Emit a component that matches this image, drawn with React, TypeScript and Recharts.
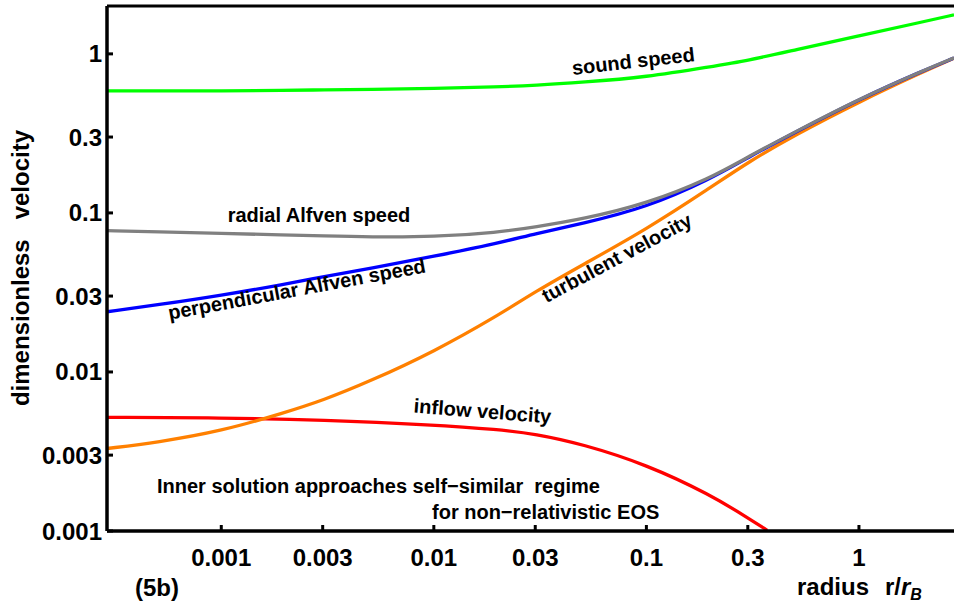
import { LineChart, Line, XAxis, YAxis, ReferenceLine } from "recharts";

const radius = [2.9e-4, 5e-4, 1e-3, 2e-3, 3e-3, 5e-3, 0.01, 0.02, 0.03, 0.05, 0.1, 0.2, 0.3, 0.5, 1, 2, 2.8];

const soundSpeed = [0.585, 0.585, 0.585, 0.589, 0.594, 0.598, 0.607, 0.62, 0.634, 0.663, 0.714, 0.831, 0.908, 1.06, 1.3, 1.59, 1.76];
const radialAlfven = [0.0774, 0.076, 0.0743, 0.0727, 0.0717, 0.0706, 0.0706, 0.0754, 0.0816, 0.0913, 0.114, 0.165, 0.225, 0.323, 0.521, 0.785, 0.944];
const perpAlfven = [0.0239, 0.0264, 0.0303, 0.0357, 0.0396, 0.0448, 0.0533, 0.0643, 0.0741, 0.0857, 0.108, 0.163, 0.223, 0.321, 0.519, 0.783, 0.942];
const turbulent = [0.0033, 0.00361, 0.00424, 0.00556, 0.00662, 0.00873, 0.0134, 0.0226, 0.032, 0.0471, 0.0788, 0.144, 0.208, 0.309, 0.499, 0.77, 0.94];

const inflowRadius = [2.9e-4, 1e-3, 3e-3, 0.01, 0.02, 0.03, 0.05, 0.1, 0.2, 0.3, 0.37];
const inflow = [0.00518, 0.00515, 0.00499, 0.00465, 0.00435, 0.00408, 0.00352, 0.00262, 0.00169, 0.00121, 0.00101];

const xTicks = [0.001, 0.003, 0.01, 0.03, 0.1, 0.3, 1];
const yTicks = [0.001, 0.003, 0.01, 0.03, 0.1, 0.3, 1];

const toPoints = (xs: number[], ys: number[]) => xs.map((r, i) => ({ r, v: ys[i] }));

const font = "'Liberation Sans', Arial, Helvetica, sans-serif";
const tickStyle = { fill: "#000", fontSize: 24, fontWeight: "bold", fontFamily: font };
const noteStyle = { fill: "#000", fontSize: 20, fontWeight: "bold", fontFamily: font };

export default function App() {
  return (
    <div style={{ position: "absolute", left: 0, top: 0, width: 954, height: 607, background: "#fff" }}>
      <LineChart width={954} height={607} margin={{ top: 6, right: 0, bottom: 0, left: 0 }}>
        <XAxis
          dataKey="r"
          type="number"
          scale="log"
          domain={[2.9e-4, 2.8]}
          allowDataOverflow
          ticks={xTicks}
          interval={0}
          height={76}
          tickSize={-6}
          tickMargin={24}
          tick={tickStyle}
          tickFormatter={(v) => String(v)}
          axisLine={{ stroke: "#000", strokeWidth: 3.5 }}
          tickLine={{ stroke: "#000", strokeWidth: 3 }}
        />
        <YAxis
          type="number"
          scale="log"
          domain={[0.001, 2]}
          allowDataOverflow
          ticks={yTicks}
          interval={0}
          width={107}
          tickSize={-6}
          tickMargin={11}
          tick={tickStyle}
          tickFormatter={(v) => String(v)}
          axisLine={{ stroke: "#000", strokeWidth: 3.5 }}
          tickLine={{ stroke: "#000", strokeWidth: 3 }}
        />
        <ReferenceLine y={2} stroke="#000" strokeWidth={3} />
        <Line data={toPoints(inflowRadius, inflow)} dataKey="v" type="basis" stroke="#ff0000" strokeWidth={3.3} dot={false} isAnimationActive={false} />
        <Line data={toPoints(radius, turbulent)} dataKey="v" type="basis" stroke="#ff8000" strokeWidth={3.3} dot={false} isAnimationActive={false} />
        <Line data={toPoints(radius, perpAlfven)} dataKey="v" type="basis" stroke="#0000ff" strokeWidth={3.3} dot={false} isAnimationActive={false} />
        <Line data={toPoints(radius, radialAlfven)} dataKey="v" type="basis" stroke="#808080" strokeWidth={3.3} dot={false} isAnimationActive={false} />
        <Line data={toPoints(radius, soundSpeed)} dataKey="v" type="basis" stroke="#00ff00" strokeWidth={3.3} dot={false} isAnimationActive={false} />
      </LineChart>

      <svg width={954} height={607} style={{ position: "absolute", left: 0, top: 0, pointerEvents: "none" }}>
        <text x={20} y={268} transform="rotate(-90, 20, 268)" textAnchor="middle" dominantBaseline="central" style={{ ...tickStyle, whiteSpace: "pre" }}>
          {"dimensionless   velocity"}
        </text>
        <text x={135} y={596} style={tickStyle}>(5b)</text>
        <text y={595} style={tickStyle}>
          <tspan x={797}>radius</tspan>
          <tspan x={885}>r/</tspan>
          <tspan fontStyle="italic">r</tspan>
          <tspan fontStyle="italic" fontSize={16} dy={5}>B</tspan>
        </text>

        <text x={634} y={68} textAnchor="middle" transform="rotate(-6.5, 634, 68)" style={noteStyle}>sound speed</text>
        <text x={319} y={222} textAnchor="middle" style={noteStyle}>radial Alfven speed</text>
        <text x={298} y={296} textAnchor="middle" transform="rotate(-10.5, 298, 296)" style={noteStyle}>perpendicular Alfven speed</text>
        <text x={620} y={264} textAnchor="middle" transform="rotate(-28, 620, 264)" style={noteStyle}>turbulent velocity</text>
        <text x={482} y={418} textAnchor="middle" transform="rotate(4.5, 482, 418)" style={noteStyle}>inflow velocity</text>
        <text x={157} y={493} style={{ ...noteStyle, whiteSpace: "pre" }}>{"Inner solution approaches self\u2212similar  regime"}</text>
        <text x={432} y={519} style={noteStyle}>{"for non\u2212relativistic EOS"}</text>
      </svg>
    </div>
  );
}
